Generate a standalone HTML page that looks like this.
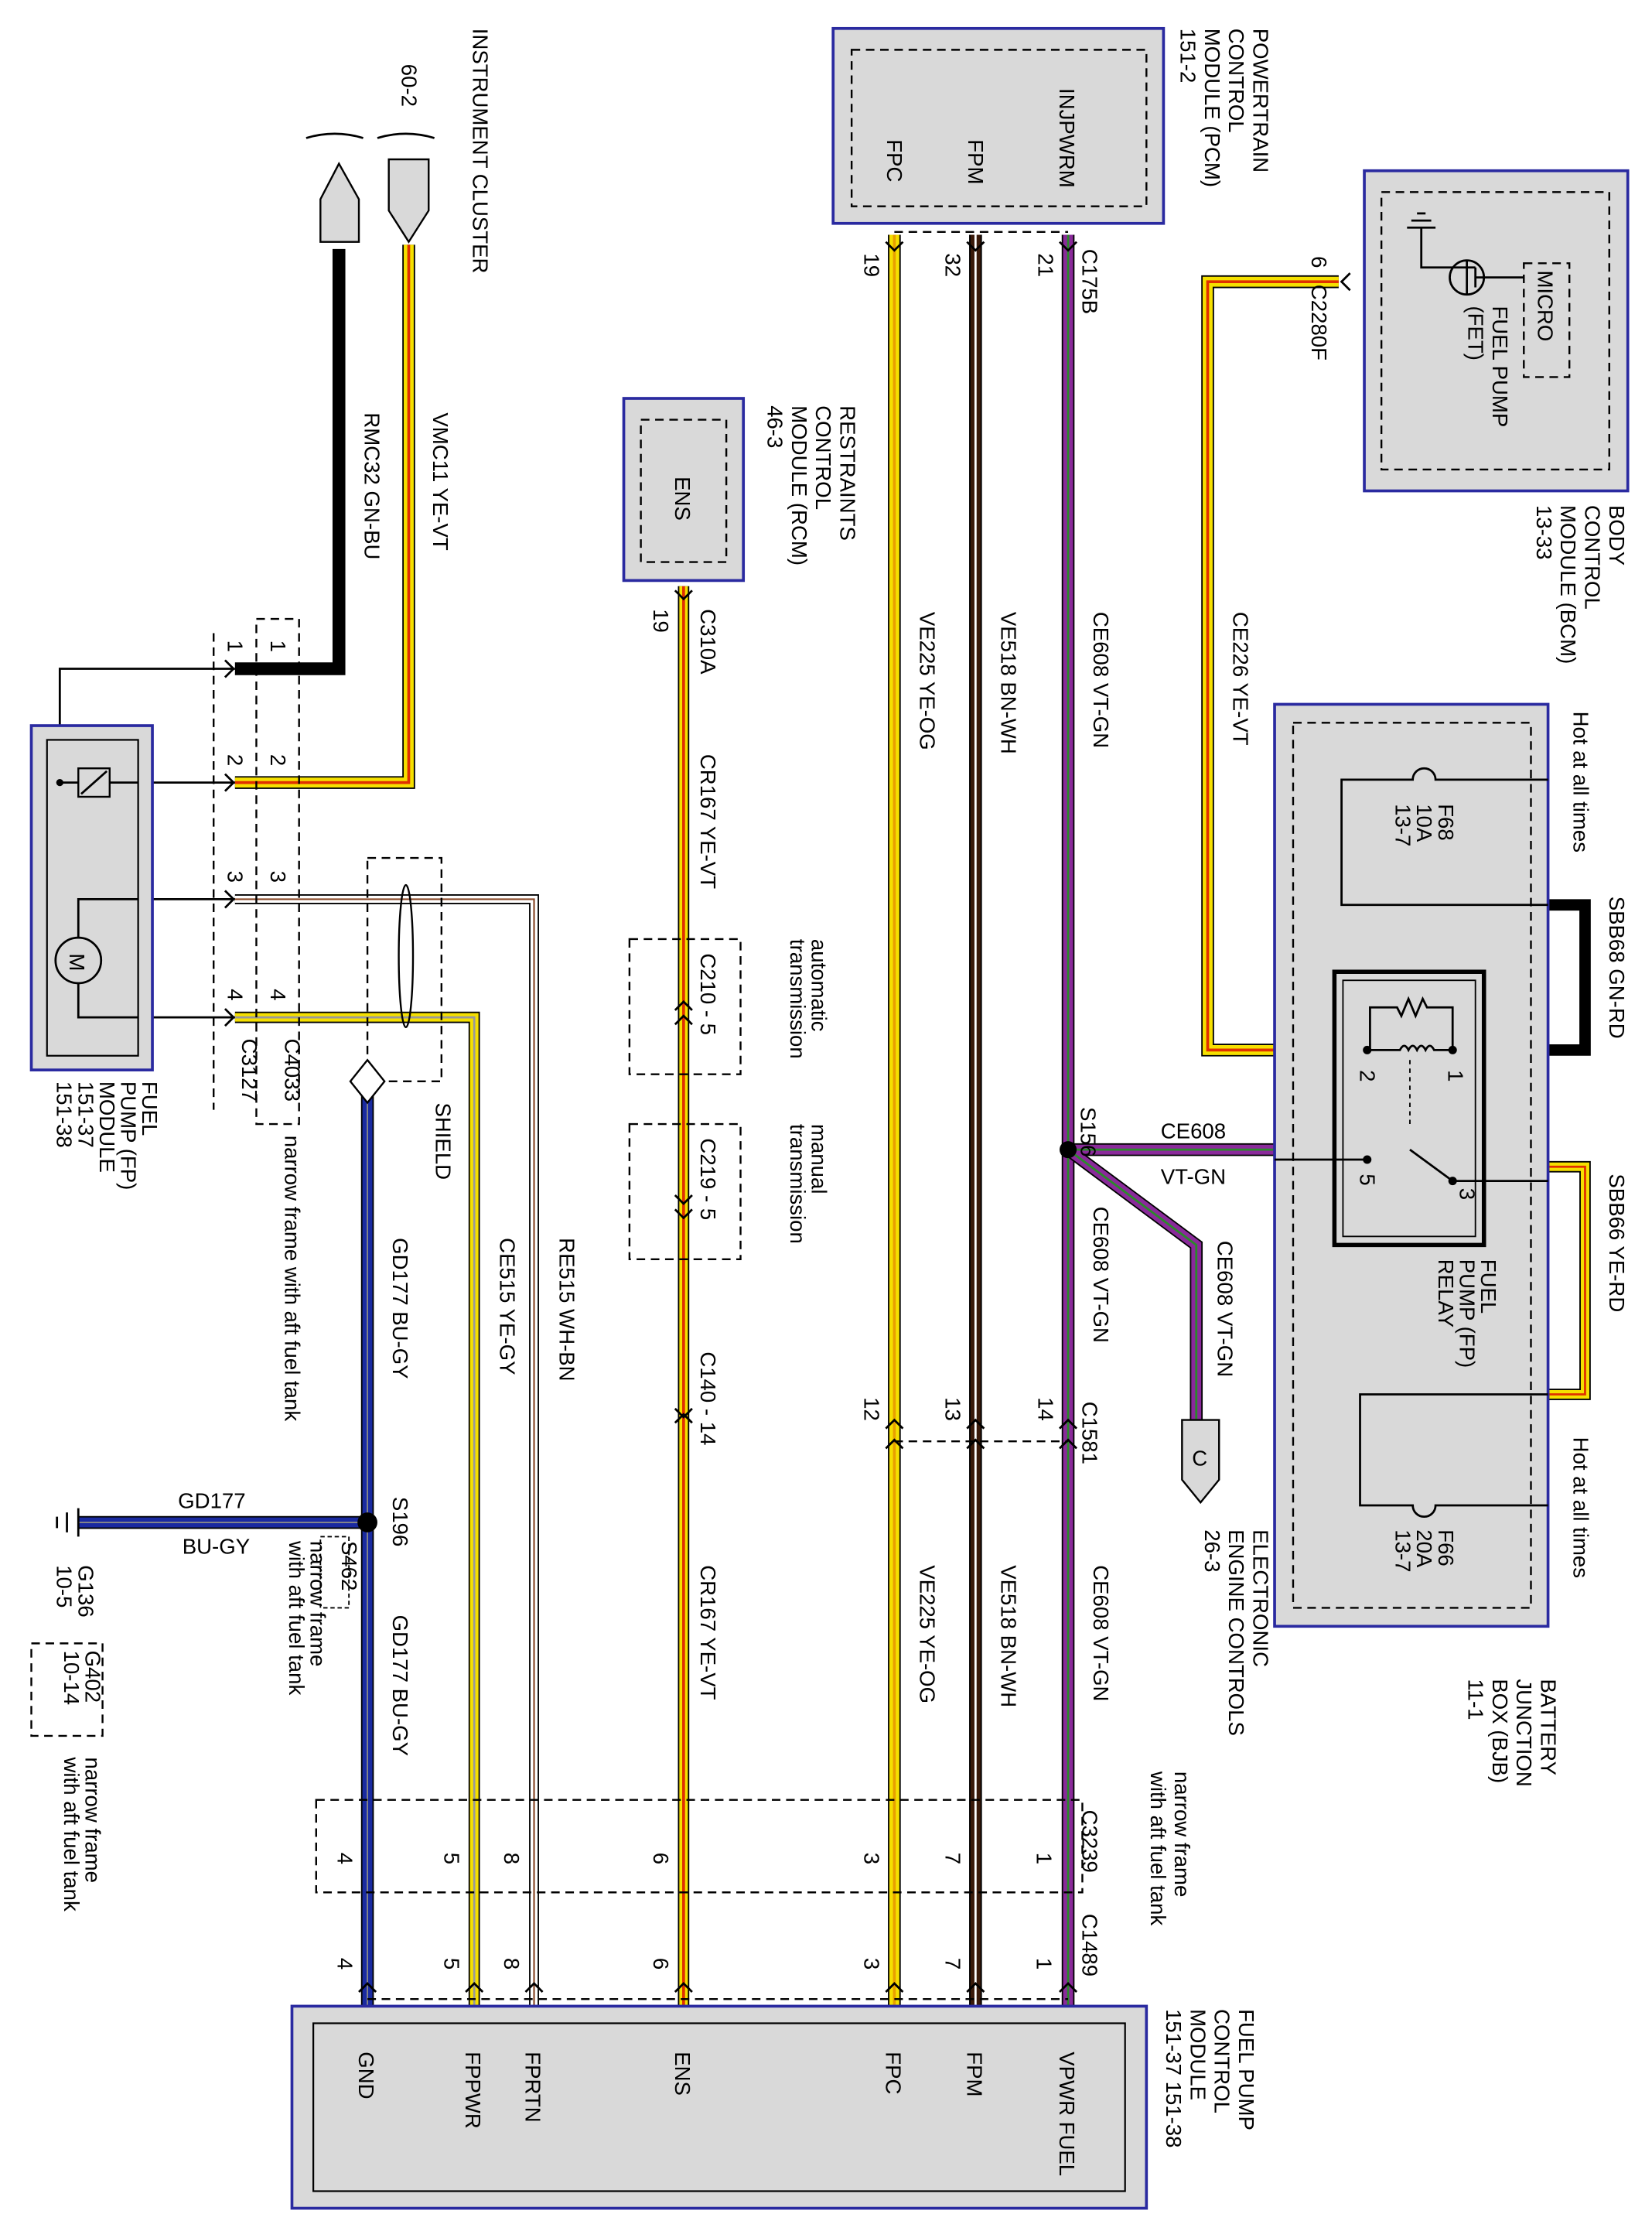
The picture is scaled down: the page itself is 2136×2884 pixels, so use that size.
<!DOCTYPE html>
<html><head><meta charset="utf-8"><style>
html,body{margin:0;padding:0;background:#fff}
svg{display:block}
text{font-family:"Liberation Sans",sans-serif;font-size:15px;fill:#000}
.bx{fill:#d9d9d9;stroke:#2a2aa0;stroke-width:2}
.in{fill:none;stroke:#000;stroke-width:1.2}
.ds{fill:none;stroke:#000;stroke-width:1.3;stroke-dasharray:6,4}
.ln{fill:none;stroke:#000;stroke-width:1.5}
</style></head><body>
<svg width="2136" height="2884" viewBox="0 0 1160 1568" preserveAspectRatio="none" xmlns="http://www.w3.org/2000/svg">
<defs>
<path id="w_fpc" d="M628,165 V1420"/>
<path id="w_fpm" d="M685,165 V1420"/>
<path id="w_vp" d="M750,165 V1420"/>
<path id="w_br" d="M750,808 L840,875 V998 M750,808 H895"/>
<path id="w_ens" d="M480,412 V1420"/>
<path id="w_ce226" d="M940,198 H848 V738 H895"/>
<path id="w_vmc" d="M287,172 V550 H165"/>
<path id="w_ce515" d="M165,715 H333 V1420"/>
<path id="w_re515" d="M165,632 H375 V1420"/>
<path id="w_gd" d="M258,770 V1420 M258,1070 H55"/>
<path id="w_sbb66" d="M1087,820 H1113 V980 H1087"/>
</defs>

<!-- PCM -->
<rect class="bx" x="585" y="20" width="232" height="137"/>
<rect class="ds" x="598" y="35" width="207" height="110"/>
<g transform="translate(744,62) rotate(90)"><text>INJPWRM</text></g>
<g transform="translate(680,98) rotate(90)"><text>FPM</text></g>
<g transform="translate(623,98) rotate(90)"><text>FPC</text></g>
<g transform="translate(880,20) rotate(90)"><text>POWERTRAIN</text><text y="17">CONTROL</text><text y="34">MODULE (PCM)</text><text y="51">151-2</text></g>

<!-- wires main -->
<g fill="none">
<use href="#w_fpc" stroke="#000" stroke-width="9"/><use href="#w_fpc" stroke="#f5e000" stroke-width="7"/><use href="#w_fpc" stroke="#e8a000" stroke-width="2"/>
<use href="#w_fpm" stroke="#000" stroke-width="9"/><use href="#w_fpm" stroke="#3a1a0a" stroke-width="7"/><use href="#w_fpm" stroke="#fff" stroke-width="1.5"/>
<use href="#w_vp" stroke="#000" stroke-width="9"/><use href="#w_vp" stroke="#8a2a9a" stroke-width="7"/><use href="#w_vp" stroke="#2a8a2a" stroke-width="1.5"/>
<use href="#w_br" stroke="#000" stroke-width="9"/><use href="#w_br" stroke="#8a2a9a" stroke-width="7"/><use href="#w_br" stroke="#2a8a2a" stroke-width="1.5"/>
<use href="#w_ens" stroke="#000" stroke-width="8"/><use href="#w_ens" stroke="#f5e000" stroke-width="6"/><use href="#w_ens" stroke="#e03000" stroke-width="2"/>
<use href="#w_ce226" stroke="#000" stroke-width="9"/><use href="#w_ce226" stroke="#f5e000" stroke-width="7"/><use href="#w_ce226" stroke="#e03000" stroke-width="2"/>
<use href="#w_vmc" stroke="#000" stroke-width="9"/><use href="#w_vmc" stroke="#f5e000" stroke-width="7"/><use href="#w_vmc" stroke="#e03000" stroke-width="2"/>
<use href="#w_ce515" stroke="#000" stroke-width="8"/><use href="#w_ce515" stroke="#f5e000" stroke-width="6"/><use href="#w_ce515" stroke="#999" stroke-width="1.5"/>
<use href="#w_re515" stroke="#000" stroke-width="7"/><use href="#w_re515" stroke="#fff" stroke-width="5"/><use href="#w_re515" stroke="#8a4a2a" stroke-width="1.2"/>
<use href="#w_gd" stroke="#000" stroke-width="9"/><use href="#w_gd" stroke="#1a2aa0" stroke-width="7"/><use href="#w_gd" stroke="#888" stroke-width="1"/>
<use href="#w_sbb66" stroke="#000" stroke-width="8"/><use href="#w_sbb66" stroke="#f5e000" stroke-width="6"/><use href="#w_sbb66" stroke="#e03000" stroke-width="1.5"/>
<path d="M238,175 V470 H165" stroke="#000" stroke-width="9"/>
<path d="M1087,636 H1113 V738 H1020" stroke="#000" stroke-width="8"/>
</g>

<!-- connector arrows/dashes PCM side -->
<path class="ds" d="M628,163 H750"/>
<path class="ln" d="M622,170 l6,6 l6,-6 M679,170 l6,6 l6,-6 M744,170 l6,6 l6,-6"/>
<g transform="translate(607,178) rotate(90)"><text>19</text></g>
<g transform="translate(664,178) rotate(90)"><text>32</text></g>
<g transform="translate(729,178) rotate(90)"><text>21</text></g>
<g transform="translate(760,175) rotate(90)"><text>C175B</text></g>
<g transform="translate(646,430) rotate(90)"><text>VE225  YE-OG</text></g>
<g transform="translate(703,430) rotate(90)"><text>VE518  BN-WH</text></g>
<g transform="translate(768,430) rotate(90)"><text>CE608  VT-GN</text></g>

<!-- S156 -->
<circle cx="750" cy="808" r="6" fill="#000"/>
<g transform="translate(759,778) rotate(90)"><text>S156</text></g>
<text x="815" y="800">CE608</text><text x="815" y="832">VT-GN</text>
<g transform="translate(768,848) rotate(90)"><text>CE608  VT-GN</text></g>
<g transform="translate(855,872) rotate(90)"><text>CE608  VT-GN</text></g>
<path d="M830,998 H856 V1040 L843,1056 L830,1040 Z" fill="#d9d9d9" stroke="#000" stroke-width="1.3"/>
<text x="837" y="1030">C</text>
<g transform="translate(880,1075) rotate(90)"><text>ELECTRONIC</text><text y="17">ENGINE CONTROLS</text><text y="34">26-3</text></g>

<!-- C1581 -->
<path class="ds" d="M628,1013 H750"/>
<path class="ln" d="M622,1004 l6,-6 l6,6 M622,1018 l6,-6 l6,6 M679,1004 l6,-6 l6,6 M679,1018 l6,-6 l6,6 M744,1004 l6,-6 l6,6 M744,1018 l6,-6 l6,6"/>
<g transform="translate(607,982) rotate(90)"><text>12</text></g>
<g transform="translate(664,982) rotate(90)"><text>13</text></g>
<g transform="translate(729,982) rotate(90)"><text>14</text></g>
<g transform="translate(760,985) rotate(90)"><text>C1581</text></g>
<g transform="translate(646,1100) rotate(90)"><text>VE225  YE-OG</text></g>
<g transform="translate(703,1100) rotate(90)"><text>VE518  BN-WH</text></g>
<g transform="translate(768,1100) rotate(90)"><text>CE608  VT-GN</text></g>

<!-- C3239 -->
<rect class="ds" x="222" y="1265" width="538" height="65"/>
<g transform="translate(760,1272) rotate(90)"><text>C3239</text></g>
<g transform="translate(825,1245) rotate(90)"><text>narrow frame</text><text y="17">with aft fuel tank</text></g>
<g font-size="14">
<g transform="translate(728,1302) rotate(90)"><text>1</text></g>
<g transform="translate(664,1302) rotate(90)"><text>7</text></g>
<g transform="translate(607,1302) rotate(90)"><text>3</text></g>
<g transform="translate(459,1302) rotate(90)"><text>6</text></g>
<g transform="translate(354,1302) rotate(90)"><text>8</text></g>
<g transform="translate(312,1302) rotate(90)"><text>5</text></g>
<g transform="translate(237,1302) rotate(90)"><text>4</text></g>
<g transform="translate(728,1376) rotate(90)"><text>1</text></g>
<g transform="translate(664,1376) rotate(90)"><text>7</text></g>
<g transform="translate(607,1376) rotate(90)"><text>3</text></g>
<g transform="translate(459,1376) rotate(90)"><text>6</text></g>
<g transform="translate(354,1376) rotate(90)"><text>8</text></g>
<g transform="translate(312,1376) rotate(90)"><text>5</text></g>
<g transform="translate(237,1376) rotate(90)"><text>4</text></g>
</g>
<g transform="translate(760,1345) rotate(90)"><text>C1489</text></g>
<path class="ds" d="M258,1405 H750"/>
<path class="ln" d="M252,1400 l6,-6 l6,6 M327,1400 l6,-6 l6,6 M369,1400 l6,-6 l6,6 M474,1400 l6,-6 l6,6 M622,1400 l6,-6 l6,6 M679,1400 l6,-6 l6,6 M744,1400 l6,-6 l6,6"/>

<!-- FPCM -->
<rect class="bx" x="205" y="1410" width="600" height="142"/>
<rect class="in" x="220" y="1422" width="570" height="118"/>
<g transform="translate(252,1442) rotate(90)"><text>GND</text></g>
<g transform="translate(327,1442) rotate(90)"><text>FPPWR</text></g>
<g transform="translate(369,1442) rotate(90)"><text>FPRTN</text></g>
<g transform="translate(474,1442) rotate(90)"><text>ENS</text></g>
<g transform="translate(622,1442) rotate(90)"><text>FPC</text></g>
<g transform="translate(679,1442) rotate(90)"><text>FPM</text></g>
<g transform="translate(744,1442) rotate(90)"><text>VPWR FUEL</text></g>
<g transform="translate(870,1412) rotate(90)"><text>FUEL PUMP</text><text y="17">CONTROL</text><text y="34">MODULE</text><text y="51">151-37  151-38</text></g>

<!-- BCM -->
<rect class="bx" x="958" y="120" width="185" height="225"/>
<rect class="ds" x="970" y="135" width="160" height="195"/>
<rect class="ds" x="1070" y="185" width="32" height="80"/>
<g transform="translate(1080,190) rotate(90)"><text>MICRO</text></g>
<circle cx="1030" cy="195" r="12" fill="none" stroke="#000" stroke-width="1.5"/>
<path class="ln" d="M1030,183 V207 M1036,188 V202 M1036,195 H1070 M1036,188 H998 V160 M988,160 H1008 M991,155 H1005 M995,150 H1001"/>
<g transform="translate(1048,215) rotate(90)"><text>FUEL PUMP</text><text y="17">(FET)</text></g>
<g transform="translate(921,180) rotate(90)"><text>6</text></g>
<g transform="translate(921,200) rotate(90)"><text>C2280F</text></g>
<path class="ln" d="M948,192 l-6,6 l6,6"/>
<g transform="translate(1130,355) rotate(90)"><text>BODY</text><text y="17">CONTROL</text><text y="34">MODULE (BCM)</text><text y="51">13-33</text></g>
<g transform="translate(866,430) rotate(90)"><text>CE226  YE-VT</text></g>

<!-- BJB -->
<rect class="bx" x="895" y="495" width="192" height="648"/>
<rect class="ds" x="908" y="508" width="167" height="622"/>
<g transform="translate(1105,500) rotate(90)"><text>Hot at all times</text></g>
<g transform="translate(1105,1010) rotate(90)"><text>Hot at all times</text></g>
<path class="ln" d="M1087,548 H1008 a8,8 0 0 0 -16,0 H942 V636 H1087"/>
<g transform="translate(1010,565) rotate(90)"><text>F68</text><text y="15">10A</text><text y="30">13-7</text></g>
<g transform="translate(1130,630) rotate(90)"><text>SBB68   GN-RD</text></g>
<path class="ln" d="M1087,980 H955 V1058 H992 a8,8 0 0 0 16,0 H1087"/>
<g transform="translate(1010,1075) rotate(90)"><text>F66</text><text y="15">20A</text><text y="30">13-7</text></g>
<g transform="translate(1130,825) rotate(90)"><text>SBB66   YE-RD</text></g>
<rect x="937" y="683" width="105" height="192" fill="none" stroke="#000" stroke-width="3"/>
<rect x="943" y="689" width="93" height="180" fill="none" stroke="#000" stroke-width="1"/>
<path class="ln" d="M1020,738 V708 H1002 l-3,-6 l-5,12 l-5,-12 l-5,12 l-3,-6 H962 V738 M1020,738 H1007 q-3,-6 -6,0 q-3,-6 -6,0 q-3,-6 -6,0 q-3,-6 -6,0 H960"/>
<path d="M990,745 V790" stroke="#000" stroke-dasharray="3,3"/>
<path class="ln" d="M895,815 H960 M1087,830 H1020 M1020,830 L990,808"/>
<circle cx="1020" cy="738" r="3"/><circle cx="960" cy="738" r="3"/><circle cx="960" cy="815" r="3"/><circle cx="1020" cy="830" r="3"/>
<g font-size="13"><text x="1017" y="752" transform="rotate(90 1017 752)">1</text><text x="955" y="752" transform="rotate(90 955 752)">2</text><text x="955" y="825" transform="rotate(90 955 825)">5</text><text x="1025" y="835" transform="rotate(90 1025 835)">3</text></g>
<g transform="translate(1040,885) rotate(90)"><text>FUEL</text><text y="15">PUMP (FP)</text><text y="30">RELAY</text></g>
<g transform="translate(1082,1180) rotate(90)"><text>BATTERY</text><text y="17">JUNCTION</text><text y="34">BOX (BJB)</text><text y="51">11-1</text></g>

<!-- RCM -->
<rect class="bx" x="438" y="280" width="84" height="128"/>
<rect class="ds" x="450" y="295" width="60" height="100"/>
<g transform="translate(474,335) rotate(90)"><text>ENS</text></g>
<g transform="translate(590,285) rotate(90)"><text>RESTRAINTS</text><text y="17">CONTROL</text><text y="34">MODULE (RCM)</text><text y="51">46-3</text></g>
<path class="ln" d="M474,415 l6,6 l6,-6"/>
<g transform="translate(459,428) rotate(90)"><text>19</text></g>
<g transform="translate(492,428) rotate(90)"><text>C310A</text></g>
<g transform="translate(492,530) rotate(90)"><text>CR167  YE-VT</text></g>
<rect class="ds" x="442" y="660" width="78" height="95"/>
<rect class="ds" x="442" y="790" width="78" height="95"/>
<path class="ln" d="M474,710 l6,-6 l6,6 M474,720 l6,-6 l6,6 M474,840 l6,6 l6,-6 M474,850 l6,6 l6,-6 M474,990 l6,6 l6,-6 M474,1000 l6,-6 l6,6"/>
<g transform="translate(492,670) rotate(90)"><text>C210 - 5</text></g>
<g transform="translate(492,800) rotate(90)"><text>C219 - 5</text></g>
<g transform="translate(492,950) rotate(90)"><text>C140 - 14</text></g>
<g transform="translate(570,660) rotate(90)"><text>automatic</text><text y="15">transmission</text></g>
<g transform="translate(570,790) rotate(90)"><text>manual</text><text y="15">transmission</text></g>
<g transform="translate(492,1100) rotate(90)"><text>CR167  YE-VT</text></g>

<!-- instrument cluster -->
<path d="M225,140 L238,115 L252,140 V170 H225 Z" fill="#d9d9d9" stroke="#000" stroke-width="1.3"/>
<path d="M273,112 H301 V148 L287,170 L273,148 Z" fill="#d9d9d9" stroke="#000" stroke-width="1.3"/>
<path class="ln" d="M215,97 q20,-6 40,0 M265,97 q20,-6 40,0"/>
<g transform="translate(282,45) rotate(90)"><text>60-2</text></g>
<g transform="translate(332,20) rotate(90)"><text>INSTRUMENT CLUSTER</text></g>
<g transform="translate(304,290) rotate(90)"><text>VMC11  YE-VT</text></g>
<g transform="translate(256,290) rotate(90)"><text>RMC32  GN-BU</text></g>

<!-- C4033 / C3127 -->
<rect class="ds" x="180" y="435" width="30" height="355"/>
<path class="ds" d="M150,445 V780"/>
<path class="ln" d="M165,470 H42 V550 M165,550 H107 M165,632 H107 M165,715 H107 M158,464 l6,6 l-6,6 M158,544 l6,6 l-6,6 M158,626 l6,6 l-6,6 M158,709 l6,6 l-6,6"/>
<g font-size="14">
<text x="160" y="450" transform="rotate(90 160 450)">1</text><text x="190" y="450" transform="rotate(90 190 450)">1</text>
<text x="160" y="530" transform="rotate(90 160 530)">2</text><text x="190" y="530" transform="rotate(90 190 530)">2</text>
<text x="160" y="612" transform="rotate(90 160 612)">3</text><text x="190" y="612" transform="rotate(90 190 612)">3</text>
<text x="160" y="695" transform="rotate(90 160 695)">4</text><text x="190" y="695" transform="rotate(90 190 695)">4</text>
</g>
<g transform="translate(170,730) rotate(90)"><text>C3127</text></g>
<g transform="translate(200,730) rotate(90)"><text>C4033</text></g>
<g transform="translate(200,798) rotate(90)"><text>narrow frame with aft fuel tank</text></g>

<!-- FP module -->
<rect class="bx" x="22" y="510" width="85" height="242"/>
<rect class="in" x="33" y="520" width="64" height="222"/>
<rect x="55" y="540" width="22" height="20" fill="none" stroke="#000" stroke-width="1.3"/>
<path class="ln" d="M42,550 H55 M77,550 H97 M57,558 L75,542"/>
<circle cx="42" cy="550" r="2.5"/>
<circle cx="55" cy="675" r="16" fill="none" stroke="#000" stroke-width="1.5"/>
<text x="49" y="670" transform="rotate(90 49 670)">M</text>
<path class="ln" d="M97,632 H55 V659 M55,691 V715 H97"/>
<g transform="translate(100,760) rotate(90)"><text>FUEL</text><text y="15">PUMP (FP)</text><text y="30">MODULE</text><text y="45">151-37</text><text y="60">151-38</text></g>

<!-- shield -->
<rect class="ds" x="258" y="603" width="52" height="157"/>
<ellipse cx="285" cy="672" rx="5" ry="50" fill="none" stroke="#000" stroke-width="1.3"/>
<g transform="translate(306,775) rotate(90)"><text>SHIELD</text></g>
<path d="M258,745 L270,760 L258,775 L246,760 Z" fill="#fff" stroke="#000" stroke-width="1.3"/>
<g transform="translate(276,870) rotate(90)"><text>GD177   BU-GY</text></g>
<g transform="translate(351,870) rotate(90)"><text>CE515   YE-GY</text></g>
<g transform="translate(393,870) rotate(90)"><text>RE515   WH-BN</text></g>
<g transform="translate(276,1135) rotate(90)"><text>GD177   BU-GY</text></g>
<circle cx="258" cy="1070" r="7" fill="#000"/>
<g transform="translate(276,1052) rotate(90)"><text>S196</text></g>
<text x="125" y="1060">GD177</text><text x="128" y="1092">BU-GY</text>
<path class="ln" d="M55,1060 V1080 M47,1063 V1077 M40,1066 V1074"/>
<g transform="translate(55,1100) rotate(90)"><text>G136</text><text y="15">10-5</text></g>
<rect x="225" y="1080" width="20" height="50" fill="none" stroke="#000" stroke-dasharray="3,2"/>
<g transform="translate(240,1083) rotate(90)"><text font-size="13">S462</text></g>
<g transform="translate(218,1083) rotate(90)"><text>narrow frame</text><text y="15">with aft fuel tank</text></g>
<rect class="ds" x="22" y="1155" width="50" height="65"/>
<g transform="translate(60,1160) rotate(90)"><text>G402</text><text y="15">10-14</text></g>
<g transform="translate(60,1235) rotate(90)"><text>narrow frame</text><text y="15">with aft fuel tank</text></g>
</svg>
</body></html>
